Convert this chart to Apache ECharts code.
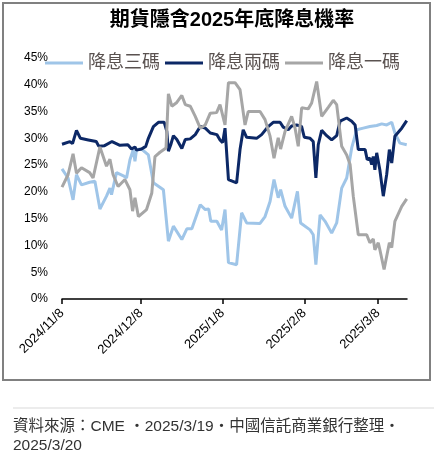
<!DOCTYPE html>
<html>
<head>
<meta charset="utf-8">
<script src="https://cdn.jsdelivr.net/npm/echarts@6/dist/echarts.min.js"></script>
<style>
html,body{margin:0;padding:0;background:#fff;}
#chart{width:434px;height:459px;}
</style>
</head>
<body>
<div id="chart"></div>
<script>
// X values are days since 2024/11/8
const tickDays = [0, 30, 61, 92, 120];
const tickLabels = ['2024/11/8', '2024/12/8', '2025/1/8', '2025/2/8', '2025/3/8'];
const seriesNames = ['降息三碼', '降息兩碼', '降息一碼'];

const cut3Days = [0,2.3,4.2,5.5,7.4,10.5,12.5,14.4,16.9,18.2,18.8,20.7,23.3,24.5,25.8,27.1,27.7,28.3,30.2,32.8,34.7,38.5,40.4,42.3,45.5,47.4,49.3,52.5,54.4,55.7,56.5,58.8,60.6,61.9,63.2,66.3,68.2,70.1,75.2,77.1,79.0,80.5,82.1,83.0,84.7,87.2,89.4,90.6,94.2,95.4,96.4,98.0,99.9,102.4,104.3,106.2,108.1,110.0,111.9,114.4,116.9,119.5,121.4,123.3,125.2,126.4,128.3,130.9];
const cut3Values = [24.3,22.6,18.5,23.2,21.3,21.8,22.0,16.8,19.2,20.7,19.5,23.6,23.0,22.6,26.0,27.9,25.7,27.9,28.0,26.9,21.7,20.4,10.8,13.6,11.1,13.1,13.1,17.6,16.7,16.8,14.5,14.5,12.9,16.7,6.8,6.4,16.1,14.2,14.1,15.4,18.2,22.3,18.9,20.4,17.3,15.1,20.1,14.2,12.9,12.0,6.4,15.7,14.5,12.3,14.2,20.7,22.6,28.2,31.6,31.9,32.2,32.4,32.7,32.5,33.0,31.0,29.1,28.8];

const cut2Days = [0,3,4,5.5,7,10,13,14,16,19,22,25,26.4,27.7,28.3,30.2,31.8,32.8,34.7,36.6,38.8,39.8,40.4,41.3,42.3,43.6,45.5,46.8,48.7,50.6,52.5,54.4,56.3,58.8,60,61,61.9,63.2,66.3,67.6,68.8,70.1,73.9,75.8,78.3,80.2,82.8,84,85.9,87.2,89.1,91,92,94.2,95.4,96.4,97.3,98.6,100.5,102.4,104.3,105.6,108.1,110,111.3,112.5,115.1,115.9,116.9,117.6,118.2,118.8,119.5,120.7,122,123.3,124.3,125.2,126.4,129,130.9];
const cut2Values = [28.9,29.4,29.0,31.5,30.0,29.7,29.4,28.5,28.6,29.4,28.7,28.8,28.0,28.4,27.8,28.0,28.5,30.0,32.2,33.0,33.0,31.3,27.6,28.8,30.5,29.8,28.1,29.8,29.9,30.7,32.2,31.9,31.0,30.7,29.7,29.2,31.9,22.3,21.7,27.9,31.6,30.2,30.0,30.7,32.2,33.0,33.0,32.1,31.6,32.3,32.5,32.2,30.2,30.0,29.4,22.6,28.8,31.5,30.5,29.7,30.5,33.2,33.8,33.2,32.5,27.9,27.9,26.0,26.3,25.1,26.6,24.1,27.3,24.1,19.2,23.3,27.9,25.4,30.4,31.9,33.3];

const cut1Days = [0,2.3,4.2,5.5,7.4,10.5,11.8,14.4,16.9,18.2,19.4,21.3,23.9,25.8,26.8,27.7,29.0,32.1,34.1,35.3,37.2,39.5,40.4,41.7,43.6,45.5,46.8,48.7,50.6,52.5,54.4,56.3,58.7,60.0,61.9,63.2,65.7,67.6,69.5,70.7,75.2,77.1,79.0,80.5,82.1,83.0,84.7,87.2,88.5,89.7,91.0,93.5,94.8,96.7,98.6,101.1,103.0,104.3,106.2,108.1,109.4,110.6,112.5,115.7,116.9,118.2,118.8,120.1,120.7,122.3,124.3,125.2,126.4,129.0,130.9];
const cut1Values = [20.9,23.2,27.1,23.5,24.5,23.6,22.6,28.4,24.8,26.1,23.2,21.0,22.3,20.4,16.4,18.9,15.4,16.7,19.8,26.6,27.4,28.2,38.3,36.0,36.7,38.0,36.3,36.0,34.1,31.9,32.5,34.7,34.8,36.3,32.5,40.4,40.4,39.1,32.5,35.0,35.0,33.5,30.4,26.3,30.1,28.0,31.3,34.1,31.9,28.5,35.7,35.5,36.6,40.6,34.1,35.8,37.1,36.3,28.5,26.9,25.1,19.2,12.0,12.0,10.5,11.2,9.2,10.5,9.2,5.5,10.5,9.6,14.5,17.3,18.7];

const zip = (d, v) => d.map((x, i) => [x, v[i]]);
const colors = ['#9fc5e8', '#0c2866', '#a6a6a6'];
const latin = '"Liberation Sans", Arial, "Noto Sans CJK TC", sans-serif';
const cjk = '"Liberation Sans", "Noto Sans CJK TC", sans-serif';

const chart = echarts.init(document.getElementById('chart'), null, {renderer: 'canvas'});
chart.setOption({
  animation: false,
  backgroundColor: '#fff',
  color: colors,
  grid: {left: 62, right: 27, top: 58, bottom: 160, containLabel: false},
  legend: {
    data: seriesNames,
    left: 40, top: 49,
    icon: 'rect', itemWidth: 38, itemHeight: 3, itemGap: 5,
    textStyle: {fontSize: 18, color: '#5a5250', fontFamily: cjk}
  },
  xAxis: {
    type: 'value', min: 0, max: 131,
    splitLine: {show: false},
    axisLine: {show: true, lineStyle: {color: '#000', width: 1.5}},
    axisTick: {show: true, customValues: tickDays, length: 5, lineStyle: {color: '#000', width: 1.5}},
    axisLabel: {
      customValues: tickDays, rotate: 45, margin: 12,
      fontSize: 13, color: '#000', fontFamily: latin,
      formatter: v => { const i = tickDays.indexOf(v); return i >= 0 ? tickLabels[i] : ''; }
    }
  },
  yAxis: {
    type: 'value', min: 0, max: 45, interval: 5,
    axisLine: {show: false}, axisTick: {show: false}, splitLine: {show: false},
    axisLabel: {formatter: '{value}%', fontSize: 12, color: '#000', margin: 14, fontFamily: latin}
  },
  series: [
    {name: seriesNames[0], type: 'line', data: zip(cut3Days, cut3Values), symbol: 'none', lineStyle: {width: 3, color: colors[0]}},
    {name: seriesNames[1], type: 'line', data: zip(cut2Days, cut2Values), symbol: 'none', lineStyle: {width: 3, color: colors[1]}},
    {name: seriesNames[2], type: 'line', data: zip(cut1Days, cut1Values), symbol: 'none', lineStyle: {width: 3, color: colors[2]}}
  ],
  graphic: [
    {type: 'rect', shape: {x: 3, y: 3, width: 427, height: 377}, style: {fill: null, stroke: '#808080', lineWidth: 2}, silent: true, z: -1},
    {type: 'text', x: 232, y: 20, style: {text: '期貨隱含2025年底降息機率', font: 'bold 20px ' + cjk, fill: '#000', textAlign: 'center', textVerticalAlign: 'middle'}},
    {type: 'line', shape: {x1: 13, y1: 408, x2: 434, y2: 408}, style: {stroke: '#d9d9d9', lineWidth: 1}},
    {type: 'text', x: 13, y: 427, style: {text: '資料來源：CME ‧2025/3/19‧中國信託商業銀行整理‧', font: '15.5px ' + cjk, fill: '#333', textVerticalAlign: 'middle'}},
    {type: 'text', x: 13, y: 446, style: {text: '2025/3/20', font: '15.5px ' + cjk, fill: '#333', textVerticalAlign: 'middle'}}
  ]
});
</script>
</body>
</html>
